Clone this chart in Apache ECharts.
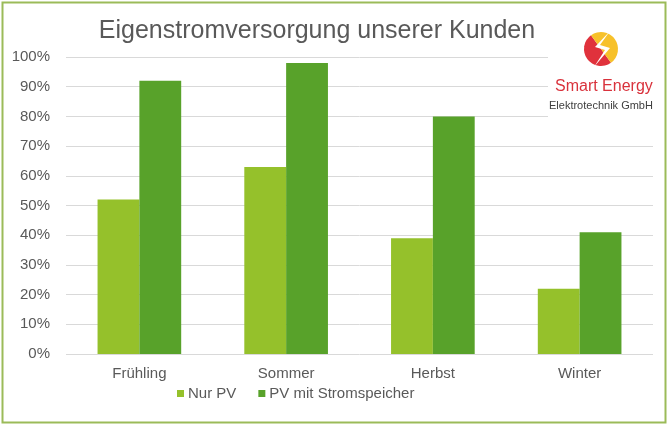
<!DOCTYPE html>
<html>
<head>
<meta charset="utf-8">
<script src="https://cdn.jsdelivr.net/npm/echarts@6/dist/echarts.min.js"></script>
<style>
  html, body { margin: 0; padding: 0; background: #fff; }
  #chart { width: 669px; height: 426px; }
</style>
</head>
<body>
<div id="chart"></div>
<script>
const seasons = ['Frühling', 'Sommer', 'Herbst', 'Winter']
const nurPv = [52, 63, 39, 22]
const pvSpeicher = [92, 98, 80, 41]
const seriesNames = ['Nur PV', 'PV mit Stromspeicher']

const chart = echarts.init(document.getElementById('chart'))
const font = 'Liberation Sans, Arial, sans-serif'

// logo: red/yellow disc with a white bolt
const cx = 601, cy = 49, r = 17
const bolt = [[cx + 9, cy - 18], [cx - 6, cy - 2], [cx + 4, cy + 1], [cx - 7, cy + 18], [cx + 9, cy - 1], [cx - 1, cy - 4], [cx + 9, cy - 18]]

const options = {
  color: ['#95c12b', '#58a22a'],
  textStyle: { fontFamily: font },
  title: {
    text: 'Eigenstromversorgung unserer Kunden',
    left: 312,
    textAlign: 'center',
    top: 14,
    textStyle: { fontSize: 25, fontWeight: 'normal', color: '#595959', fontFamily: font }
  },
  legend: {
    data: seriesNames,
    left: 172,
    top: 381,
    itemWidth: 7,
    itemHeight: 7,
    itemGap: 22,
    icon: 'rect',
    textStyle: { fontSize: 15, color: '#595959', fontFamily: font, padding: [0, 0, 0, -1] }
  },
  grid: { left: 66, right: 16, top: 57, bottom: 72 },
  xAxis: {
    type: 'category',
    data: seasons,
    axisLine: { show: false },
    axisTick: { show: false },
    axisLabel: { fontSize: 15, color: '#595959', margin: 12, fontFamily: font }
  },
  yAxis: {
    type: 'value',
    min: 0,
    max: 100,
    interval: 10,
    axisLabel: { formatter: '{value}%', fontSize: 15, color: '#595959', margin: 16, fontFamily: font },
    splitLine: { lineStyle: { color: '#d9d9d9', width: 1 } }
  },
  series: [
    {
      name: seriesNames[0],
      type: 'bar',
      data: nurPv,
      barGap: 0,
      barCategoryGap: '43%',
      emphasis: { disabled: true }
    },
    {
      name: seriesNames[1],
      type: 'bar',
      data: pvSpeicher,
      barGap: 0,
      barCategoryGap: '43%',
      emphasis: { disabled: true }
    }
  ],
  graphic: [
    {
      type: 'rect',
      shape: { x: 2.5, y: 2.5, width: 663, height: 420 },
      style: { fill: 'none', stroke: '#9bbb59', lineWidth: 2 },
      silent: true
    },
    {
      type: 'rect',
      z: 10,
      shape: { x: 548, y: 24, width: 114, height: 100 },
      style: { fill: '#fff' },
      silent: true
    },
    {
      type: 'sector',
      z: 11,
      shape: { cx: cx, cy: cy, r: r, startAngle: Math.PI * 0.3, endAngle: Math.PI * 1.3 },
      style: { fill: '#e0323c' }
    },
    {
      type: 'sector',
      z: 11,
      shape: { cx: cx, cy: cy, r: r, startAngle: Math.PI * 1.3, endAngle: Math.PI * 2.3 },
      style: { fill: '#f7c12a' }
    },
    {
      type: 'polygon',
      z: 12,
      shape: { points: bolt },
      style: { fill: '#fff' }
    },
    {
      type: 'text',
      z: 12,
      left: 555,
      top: 79,
      style: { text: 'Smart Energy', fontSize: 16, fill: '#d9323c', fontFamily: font }
    },
    {
      type: 'text',
      z: 12,
      left: 549,
      top: 100,
      style: { text: 'Elektrotechnik GmbH', fontSize: 11, fill: '#404040', fontFamily: font }
    }
  ]
}
chart.setOption(options)
</script>
</body>
</html>
